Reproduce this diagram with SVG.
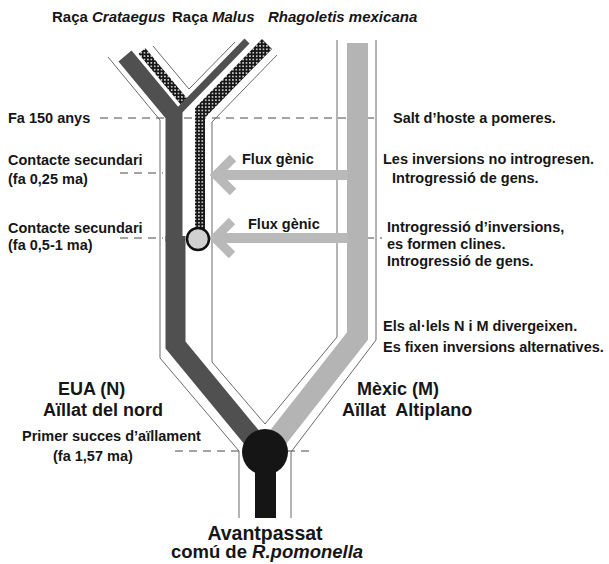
<svg xmlns="http://www.w3.org/2000/svg" width="609" height="564" viewBox="0 0 609 564">
<defs>
<pattern id="dots" patternUnits="userSpaceOnUse" width="3.4" height="3.4">
<rect width="3.4" height="3.4" fill="#161616"/>
<circle cx="1.7" cy="1.7" r="0.85" fill="#ffffff"/>
</pattern>
</defs>
<style>
.t{font-family:"Liberation Sans",Arial,sans-serif;font-weight:bold;fill:#161616;font-size:14.5px}
.big{font-size:18px}
.top{font-size:15px}
.anc{font-size:19.5px}
.anc2{font-size:18.5px}
.it{font-style:italic}
.pipe{fill:none;stroke:#6a6a6a;stroke-width:1}
.dash{fill:none;stroke:#4a4a4a;stroke-width:1.2;stroke-dasharray:8 6}
.dark{fill:none;stroke:#505050;stroke-linejoin:miter}
.light{fill:none;stroke:#b4b4b4;stroke-linejoin:miter}
.dot{fill:url(#dots)}
.dotl{fill:none;stroke:url(#dots)}
.arrow{fill:none;stroke:#b9b9b9}
</style>
<rect width="609" height="564" fill="#ffffff"/>

<g id="timeline">
<line class="dash" x1="100" y1="118" x2="378" y2="118"/>
<line class="dash" x1="120" y1="173" x2="163" y2="173"/>
<line class="dash" x1="120" y1="238" x2="163" y2="238"/>
<line class="dash" x1="366" y1="238" x2="382" y2="238"/>
<line class="dash" x1="175" y1="451" x2="312" y2="451"/>
</g>

<g id="pipes">
<polyline class="pipe" points="108,57 160,120 160,358 239,451 239,518"/>
<polyline class="pipe" points="153,46 189,89 235,42"/>
<polyline class="pipe" points="277,55 212,122 212,362 265,424 337,337 337,40"/>
<polyline class="pipe" points="376,40 376,340 291,452 291,518"/>
</g>

<g id="lineage-mexicana">
<polyline class="light" stroke-width="21" points="357.5,43 357.5,336 268,450"/>
</g>

<g id="lineage-malus">
<polyline class="dotl" stroke-width="9" points="142,51 186,104"/>
<polygon class="dot" points="262,39.1 272,48.9 205,117.8 205,232 195,232 195,108"/>
</g>

<g id="lineage-crataegus">
<polyline class="dark" stroke-width="17" points="125,56 174,115 174,242"/>
<polyline class="dark" stroke-width="7" points="247,41 174,116"/>
<polyline class="dark" stroke-width="20" points="175.5,236 175.5,345 262,450"/>
</g>

<g id="connectors">
<line class="arrow" stroke-width="10" x1="214" y1="175" x2="348" y2="175"/>
<polyline class="arrow" stroke-width="9" points="233,158 216,175 233,192"/>
<line class="arrow" stroke-width="10" x1="213" y1="238" x2="348" y2="238"/>
<polyline class="arrow" stroke-width="9" points="232,221 215,238 232,255"/>
</g>

<g id="contact-node">
<circle cx="198" cy="239" r="11" fill="#d0d0d0" stroke="#111111" stroke-width="2.5"/>
</g>

<g id="ancestor">
<rect x="255" y="452" width="21" height="66" fill="#151515"/>
<circle cx="265" cy="452" r="23" fill="#151515"/>
</g>

<g id="labels">
<text class="t top" x="52" y="22">Raça <tspan class="it">Crataegus</tspan></text>
<text class="t top" x="172" y="22">Raça <tspan class="it">Malus</tspan></text>
<text class="t top it" x="268" y="22">Rhagoletis mexicana</text>
<text class="t" x="8" y="123">Fa 150 anys</text>
<text class="t" x="393" y="123">Salt d’hoste a pomeres.</text>
<text class="t" x="8" y="165">Contacte secundari</text>
<text class="t" x="8" y="184">(fa 0,25 ma)</text>
<text class="t" x="383" y="164">Les inversions no introgresen.</text>
<text class="t" x="392" y="183">Introgressió de gens.</text>
<text class="t" x="242" y="164">Flux gènic</text>
<text class="t" x="248" y="229">Flux gènic</text>
<text class="t" x="8" y="233">Contacte secundari</text>
<text class="t" x="8" y="250">(fa 0,5-1 ma)</text>
<text class="t" x="387" y="232">Introgressió d’inversions,</text>
<text class="t" x="387" y="249">es formen clines.</text>
<text class="t" x="387" y="266">Introgressió de gens.</text>
<text class="t" x="383" y="331">Els al·lels N i M divergeixen.</text>
<text class="t" x="383" y="352">Es fixen inversions alternatives.</text>
<text class="t big" x="58" y="395">EUA (N)</text>
<text class="t big" x="43" y="416">Aïllat del nord</text>
<text class="t big" x="357" y="395">Mèxic (M)</text>
<text class="t big" x="342" y="416" xml:space="preserve">Aïllat  Altiplano</text>
<text class="t" x="22" y="441">Primer succes d’aïllament</text>
<text class="t" x="53" y="461">(fa 1,57 ma)</text>
<text class="t anc" x="265" y="540" text-anchor="middle">Avantpassat</text>
<text class="t anc2" x="267" y="558" text-anchor="middle">comú de <tspan class="it">R.pomonella</tspan></text>
</g>
</svg>
